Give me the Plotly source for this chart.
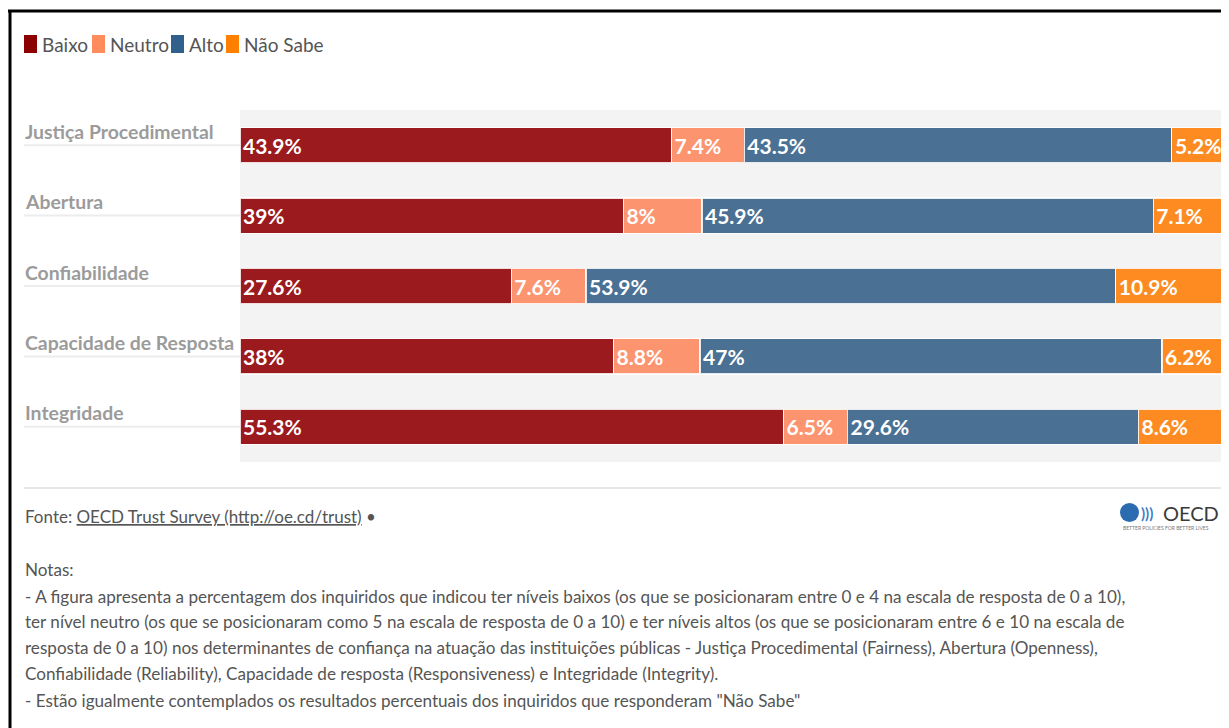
import plotly.graph_objects as go

# ---------------- data ----------------
categories = ["Justiça Procedimental", "Abertura", "Confiabilidade",
              "Capacidade de Resposta", "Integridade"]
series_names = ["Baixo", "Neutro", "Alto", "Não Sabe"]
baixo = [43.9, 39, 27.6, 38, 55.3]
neutro = [7.4, 8, 7.6, 8.8, 6.5]
alto = [43.5, 45.9, 53.9, 47, 29.6]
nao_sabe = [5.2, 7.1, 10.9, 6.2, 8.6]
values = [baixo, neutro, alto, nao_sabe]

source_prefix = "Fonte: "
source_link = "OECD Trust Survey (http://oe.cd/trust)"
notes = [
    "Notas:",
    "- A figura apresenta a percentagem dos inquiridos que indicou ter níveis baixos (os que se posicionaram entre 0 e 4 na escala de resposta de 0 a 10),",
    "ter nível neutro (os que se posicionaram como 5 na escala de resposta de 0 a 10) e ter níveis altos (os que se posicionaram entre 6 e 10 na escala de",
    "resposta de 0 a 10) nos determinantes de confiança na atuação das instituições públicas - Justiça Procedimental (Fairness), Abertura (Openness),",
    "Confiabilidade (Reliability), Capacidade de resposta (Responsiveness) e Integridade (Integrity).",
    "- Estão igualmente contemplados os resultados percentuais dos inquiridos que responderam \"Não Sabe\"",
]

# ---------------- style ----------------
bar_colors = ["#9b1a1d", "#fd9470", "#4a7094", "#fd8b21"]
legend_colors = ["#8b0000", "#ff8c5c", "#30608b", "#ff8000"]
OFF = 8                      # page body margin
W, H = 1229 - OFF, 728 - OFF
L, R, T, B = 240 - OFF, 6, 110 - OFF, 266
PW, PH = W - L - R, H - T - B
FONT = "Lato"


def px(x):
    """page pixel x -> paper x"""
    return (x - OFF - L) / PW


def py(y):
    """page pixel y -> paper y"""
    return (H - B - (y - OFF)) / PH


fig = go.Figure()
for name, vals, col in zip(series_names, values, bar_colors):
    fig.add_trace(go.Bar(
        y=categories, x=vals, name=name, orientation="h",
        marker=dict(color=col, line=dict(color="rgba(255,255,255,0.85)", width=1.2)),
        texttemplate="%{x}%", textposition="inside", insidetextanchor="start",
        constraintext="none",
        textfont=dict(family=FONT, size=21, color="white", weight="bold"),
        cliponaxis=True, showlegend=False, hoverinfo="skip",
    ))

shapes = []
annotations = []

# category labels with underline
for c in categories:
    annotations.append(dict(
        x=px(23), y=c, xref="paper", yref="y", text="<b>%s</b>" % c,
        showarrow=False, xanchor="left", yanchor="middle", yshift=14,
        font=dict(family=FONT, size=19.4, color="#9b9b9b"),
    ))
    shapes.append(dict(type="line", xref="paper", yref="y", x0=px(24), x1=0,
                       y0=c, y1=c, line=dict(color="#ececec", width=2)))

# custom legend
legend_x = [24, 92, 171, 226]
for name, col, lx in zip(series_names, legend_colors, legend_x):
    shapes.append(dict(type="rect", xref="paper", yref="paper",
                       x0=px(lx), x1=px(lx + 13), y0=py(35), y1=py(53),
                       fillcolor=col, line=dict(width=0)))
    annotations.append(dict(
        x=px(lx + 16), y=py(44), xref="paper", yref="paper", text=name,
        showarrow=False, xanchor="left", yanchor="middle",
        font=dict(family=FONT, size=19, color="#555555"),
    ))

# frame
shapes.append(dict(type="line", xref="paper", yref="paper", x0=px(8), x1=px(1229),
                   y0=py(11), y1=py(11), line=dict(color="black", width=3)))
shapes.append(dict(type="line", xref="paper", yref="paper", x0=px(10), x1=px(10),
                   y0=py(10), y1=py(728), line=dict(color="black", width=3)))

# footer separator
shapes.append(dict(type="line", xref="paper", yref="paper", x0=px(24), x1=px(1229),
                   y0=py(488), y1=py(488), line=dict(color="#e6e6e6", width=2)))

annotations.append(dict(
    x=px(23), y=py(516), xref="paper", yref="paper",
    text=source_prefix + "<u>" + source_link + "</u> •",
    showarrow=False, xanchor="left", yanchor="middle",
    font=dict(family=FONT, size=17, color="#555555"),
))

note_y = [569, 596, 621, 647, 673, 700]
for t, yy in zip(notes, note_y):
    annotations.append(dict(
        x=px(23), y=py(yy), xref="paper", yref="paper", text=t,
        showarrow=False, xanchor="left", yanchor="middle",
        font=dict(family=FONT, size=17.1, color="#555555"),
    ))

# OECD logo (approximation)
shapes.append(dict(type="circle", xref="paper", yref="paper",
                   x0=px(1120), x1=px(1139), y0=py(503), y1=py(522),
                   fillcolor="#2b6cb0", line=dict(width=0)))
annotations.append(dict(
    x=px(1139), y=py(513), xref="paper", yref="paper", text="<b>)))</b>",
    showarrow=False, xanchor="left", yanchor="middle",
    font=dict(family=FONT, size=15, color="#3d7fc4"),
))
annotations.append(dict(
    x=px(1161), y=py(513), xref="paper", yref="paper", text="OECD",
    showarrow=False, xanchor="left", yanchor="middle",
    font=dict(family=FONT, size=20, color="#3a3a3a"),
))
annotations.append(dict(
    x=px(1121), y=py(528), xref="paper", yref="paper",
    text="BETTER POLICIES FOR BETTER LIVES",
    showarrow=False, xanchor="left", yanchor="middle",
    font=dict(family=FONT, size=5, color="#777777"),
))

fig.update_layout(
    width=W, height=H, barmode="stack", bargap=0.5,
    margin=dict(l=L, r=R, t=T, b=B, autoexpand=False),
    plot_bgcolor="#f3f3f3", paper_bgcolor="white",
    font=dict(family=FONT),
    xaxis=dict(range=[0, 100], visible=False, fixedrange=True),
    yaxis=dict(autorange="reversed", showticklabels=False, showgrid=False,
               zeroline=False, ticks="", fixedrange=True),
    shapes=shapes, annotations=annotations, showlegend=False,
)

fig.write_html("out.html", config={"displayModeBar": False})
